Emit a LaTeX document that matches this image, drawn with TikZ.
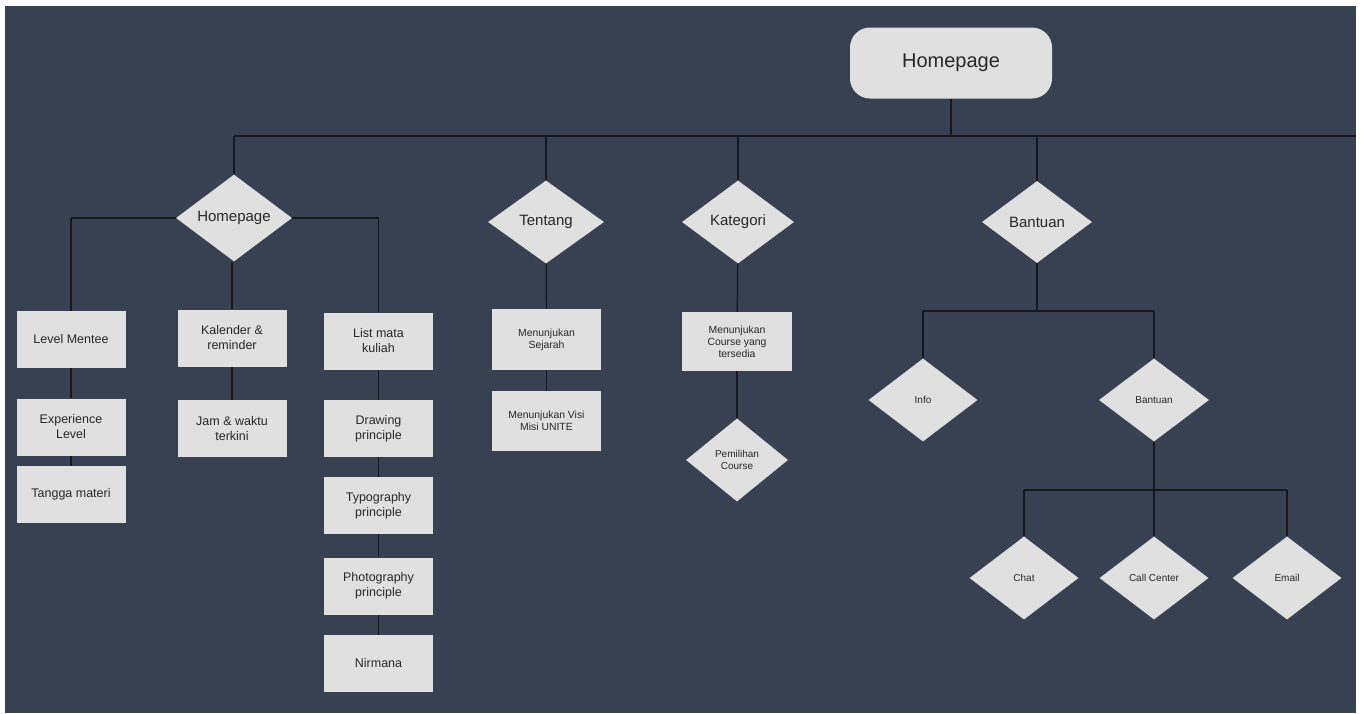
\documentclass[tikz,border=0pt]{standalone}
\usepackage{fontspec}
\setmainfont{Liberation Sans}
\usetikzlibrary{shapes.geometric}
\pgfdeclarelayer{bg}
\pgfdeclarelayer{lines}
\pgfsetlayers{bg,lines,main}
\definecolor{bgdark}{RGB}{56,65,82}
\definecolor{boxfill}{RGB}{224,224,224}
\definecolor{inkc}{RGB}{40,40,40}
\definecolor{linec}{RGB}{22,24,30}
\tikzset{
  rootbox/.style={fill=boxfill, rounded corners=20pt, minimum width=202pt, minimum height=71pt, inner sep=0pt, text=inkc, font=\fontsize{20}{24}\selectfont},
  bigdia/.style={diamond, fill=boxfill, inner sep=0pt, text=inkc, font=\fontsize{15}{18}\selectfont},
  smalldia/.style={diamond, fill=boxfill, inner sep=0pt, text=inkc, font=\fontsize{10}{12}\selectfont, align=center},
  itembox/.style={rectangle, fill=boxfill, minimum width=109pt, minimum height=57pt, inner sep=0pt, text=inkc, align=center, font=\fontsize{12.5}{15}\selectfont},
  smallbox/.style={itembox, font=\fontsize{10.4}{12}\selectfont},
  conn/.style={draw=linec, line width=1.2pt}
}
\begin{document}
\begin{tikzpicture}[x=1pt,y=-1pt]
\begin{pgfonlayer}{bg}
\fill[white] (0,0) rectangle (1365,713);
\fill[bgdark] (5,6) rectangle (1356,713);
\end{pgfonlayer}
\useasboundingbox (0,0) rectangle (1365,713);

% root
\node[rootbox] (root) at (951,63) {Homepage};

% level 1 diamonds
\node[bigdia, minimum width=116pt, minimum height=82pt] (hp) at (234,218) {Homepage};
\node[bigdia, minimum width=116pt, minimum height=83pt] (ten) at (546,222) {Tentang};
\node[bigdia, minimum width=112pt, minimum height=83pt] (kat) at (738,222) {Kategori};
\node[bigdia, minimum width=110pt, minimum height=82pt] (ban) at (1037,222) {Bantuan};

% Homepage branch
\node[itembox] (lm) at (71,339.5) {Level Mentee};
\node[itembox] (el) at (71,427) {Experience\\Level};
\node[itembox] (tm) at (71,494.5) {Tangga materi};
\node[itembox] (kal) at (232,338) {Kalender \&\\reminder};
\node[itembox] (jam) at (232,428.5) {Jam \& waktu\\terkini};
\node[itembox] (lmk) at (378.5,341) {List mata\\kuliah};
\node[itembox] (dp) at (378.5,428.5) {Drawing\\principle};
\node[itembox] (tp) at (378.5,505.5) {Typography\\principle};
\node[itembox] (pp) at (378.5,586) {Photography\\principle};
\node[itembox] (nir) at (378.5,663.5) {Nirmana};

% Tentang branch
\node[smallbox, minimum height=61pt] (sej) at (546.5,339.5) {Menunjukan\\Sejarah};
\node[smallbox, minimum height=60pt] (visi) at (546.5,421) {Menunjukan Visi\\Misi UNITE};

% Kategori branch
\node[smallbox, minimum width=110pt, minimum height=59pt] (crs) at (737,341.5) {Menunjukan\\Course yang\\tersedia};
\node[smalldia, minimum width=102pt, minimum height=83pt] (pem) at (737,460) {Pemilihan\\Course};

% Bantuan branch
\node[smalldia, minimum width=109pt, minimum height=83pt] (info) at (923,400) {Info};
\node[smalldia, minimum width=110pt, minimum height=83pt] (ban2) at (1154,400) {Bantuan};
\node[smalldia, minimum width=109pt, minimum height=83pt] (chat) at (1024,578) {Chat};
\node[smalldia, minimum width=109pt, minimum height=83pt] (call) at (1154,578) {Call Center};
\node[smalldia, minimum width=109pt, minimum height=83pt] (email) at (1287,578) {Email};

% junction coordinates
\coordinate (topbus) at (951,136);
\coordinate (topend) at (1356,136);
\coordinate (hpbusL) at (71,218);
\coordinate (hpbusR) at (378.5,218);
\coordinate (banbus) at (1037,311);
\coordinate (ban2bus) at (1154,490);

\begin{pgfonlayer}{lines}
% top level
\draw[conn] (root.south) -- (topbus);
\draw[conn] (hp.north |- topbus) -- (topend);
\draw[conn] (hp.north |- topbus) -- (hp.north);
\draw[conn] (ten.north |- topbus) -- (ten.north);
\draw[conn] (kat.north |- topbus) -- (kat.north);
\draw[conn] (ban.north |- topbus) -- (ban.north);
% Homepage branch
\draw[conn] (lm.north |- hpbusL) -- (hpbusR);
\draw[conn] (lm.north |- hpbusL) -- (lm.north);
\draw[conn] (kal.north |- hp.south) -- (kal.north);
\draw[conn] (lmk.north |- hpbusR) -- (lmk.north);
\draw[conn] (lm) -- (el);
\draw[conn] (el) -- (tm);
\draw[conn] (kal) -- (jam);
\draw[conn] (lmk) -- (dp);
\draw[conn] (dp) -- (tp);
\draw[conn] (tp) -- (pp);
\draw[conn] (pp) -- (nir);
% Tentang
\draw[conn] (ten) -- (sej);
\draw[conn] (sej) -- (visi);
% Kategori
\draw[conn] (kat) -- (crs);
\draw[conn] (crs) -- (pem);
% Bantuan
\draw[conn] (ban.south) -- (banbus);
\draw[conn] (info.north |- banbus) -- (ban2.north |- banbus);
\draw[conn] (info.north |- banbus) -- (info.north);
\draw[conn] (ban2.north |- banbus) -- (ban2.north);
\draw[conn] (ban2.south) -- (ban2bus);
\draw[conn] (chat.north |- ban2bus) -- (email.north |- ban2bus);
\draw[conn] (chat.north |- ban2bus) -- (chat.north);
\draw[conn] (call.north |- ban2bus) -- (call.north);
\draw[conn] (email.north |- ban2bus) -- (email.north);
\end{pgfonlayer}
\end{tikzpicture}
\end{document}
